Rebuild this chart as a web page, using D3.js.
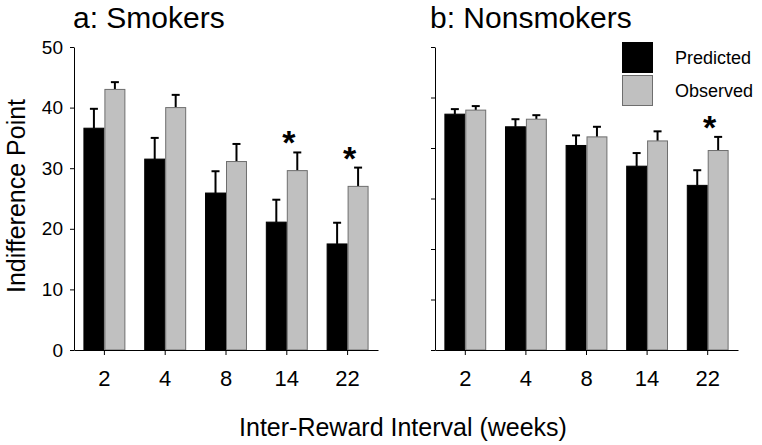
<!DOCTYPE html>
<html><head><meta charset="utf-8">
<script src="https://cdn.jsdelivr.net/npm/d3@7"></script>
<style>body{margin:0;background:#fff}svg{display:block;font-family:Arial,"Liberation Sans",sans-serif}</style>
</head><body><svg id="c" width="762" height="445"></svg>
<script>
const categories = ["2","4","8","14","22"];
const series = ["Predicted","Observed"];
const smokersPredicted = [36.6, 31.5, 25.9, 21.1, 17.5];
const smokersPredictedErr = [3.2, 3.5, 3.6, 3.7, 3.5];
const smokersObserved = [43.0, 40.0, 31.1, 29.6, 27.0];
const smokersObservedErr = [1.2, 2.1, 2.9, 3.0, 3.1];
const nonsmokersPredicted = [46.7, 44.2, 40.5, 36.4, 32.6];
const nonsmokersPredictedErr = [1.0, 1.5, 2.0, 2.6, 3.0];
const nonsmokersObserved = [47.5, 45.7, 42.2, 41.4, 39.5];
const nonsmokersObservedErr = [0.8, 0.8, 2.0, 1.9, 2.7];
const smokersYTicks = [0,10,20,30,40,50];
const nonsmokersYTicks = [0,10,20,30,40,50,60];
const smokersSig = ["14","22"];
const nonsmokersSig = ["22"];
const colors = {Predicted:"#000000", Observed:"#c0c0c0"};

const svg = d3.select("#c");

function panel(opt){
  const x = d3.scaleBand().domain(categories).range(opt.xr).paddingInner(0.31).paddingOuter(0.155);
  const xs = d3.scaleBand().domain(series).range([0, x.bandwidth()]);
  const y = d3.scaleLinear().domain(opt.yd).range([350, 47]);
  const g = svg.append("g");
  const rows = [];
  categories.forEach((c,i)=>{
    rows.push({c, s:"Predicted", v:opt.pred[i], e:opt.predErr[i]});
    rows.push({c, s:"Observed", v:opt.obs[i], e:opt.obsErr[i]});
  });
  // error bars
  const eb = g.selectAll("g.eb").data(rows).join("g");
  eb.append("line")
    .attr("x1", d=>x(d.c)+xs(d.s)+xs.bandwidth()/2).attr("x2", d=>x(d.c)+xs(d.s)+xs.bandwidth()/2)
    .attr("y1", d=>y(d.v)).attr("y2", d=>y(d.v+d.e))
    .attr("stroke","#000").attr("stroke-width",2);
  eb.append("line")
    .attr("x1", d=>x(d.c)+xs(d.s)+xs.bandwidth()/2-4).attr("x2", d=>x(d.c)+xs(d.s)+xs.bandwidth()/2+4)
    .attr("y1", d=>y(d.v+d.e)).attr("y2", d=>y(d.v+d.e))
    .attr("stroke","#000").attr("stroke-width",2);
  g.selectAll("rect.bar").data(rows).join("rect")
    .attr("x", d=>x(d.c)+xs(d.s)+0.5).attr("width", xs.bandwidth()-1)
    .attr("y", d=>y(d.v)).attr("height", d=>y(0)-y(d.v))
    .attr("fill", d=>colors[d.s])
    .attr("stroke", d=>d.s==="Observed"?"#6e6e6e":"#000").attr("stroke-width",1);
  // asterisks
  g.selectAll("text.sig").data(opt.sig).join("text")
    .attr("x", c=>x(c)+x.bandwidth()/2+2)
    .attr("y", c=>{const i=categories.indexOf(c); return y(opt.obs[i]+opt.obsErr[i])+2;})
    .attr("text-anchor","middle").attr("font-size",34).attr("font-weight","bold").text("*");
  // axes
  const ya = g.append("g").attr("transform",`translate(${opt.xr[0]},0)`)
    .call(d3.axisLeft(y).tickValues(opt.yt).tickSize(4).tickSizeOuter(0).tickFormat(opt.labels? d3.format("d") : ()=>""));
  ya.select(".domain").attr("stroke","#000");
  ya.selectAll("text").attr("font-size",19).attr("fill","#000").attr("dx","-4px");
  const xa = g.append("g").attr("transform","translate(0,350)")
    .call(d3.axisBottom(x).tickSize(5).tickSizeOuter(0));
  xa.selectAll("text").attr("font-size",22).attr("fill","#000").attr("dy","1.25em");
  g.append("text").attr("x",opt.tx).attr("y",28).attr("font-size",30).text(opt.title);
}

panel({xr:[74,378], yd:[0,50], yt:smokersYTicks, labels:true, pred:smokersPredicted, predErr:smokersPredictedErr,
  obs:smokersObserved, obsErr:smokersObservedErr, sig:smokersSig, title:"a: Smokers", tx:73});
panel({xr:[435,738], yd:[0,60], yt:nonsmokersYTicks, labels:false, pred:nonsmokersPredicted, predErr:nonsmokersPredictedErr,
  obs:nonsmokersObserved, obsErr:nonsmokersObservedErr, sig:nonsmokersSig, title:"b: Nonsmokers", tx:430});

// legend
const lg = svg.append("g");
series.forEach((s,i)=>{
  lg.append("rect").attr("x",622.5).attr("y",42.5+i*33).attr("width",30).attr("height",30)
    .attr("fill",colors[s]).attr("stroke", s==="Observed"?"#6e6e6e":"#000");
  lg.append("text").attr("x",675).attr("y",64+i*33).attr("font-size",18).text(s);
});

svg.append("text").attr("x",403).attr("y",436).attr("text-anchor","middle").attr("font-size",25).text("Inter-Reward Interval (weeks)");
svg.append("text").attr("transform","translate(25,196) rotate(-90)").attr("text-anchor","middle").attr("font-size",25).text("Indifference Point");
</script></body></html>
